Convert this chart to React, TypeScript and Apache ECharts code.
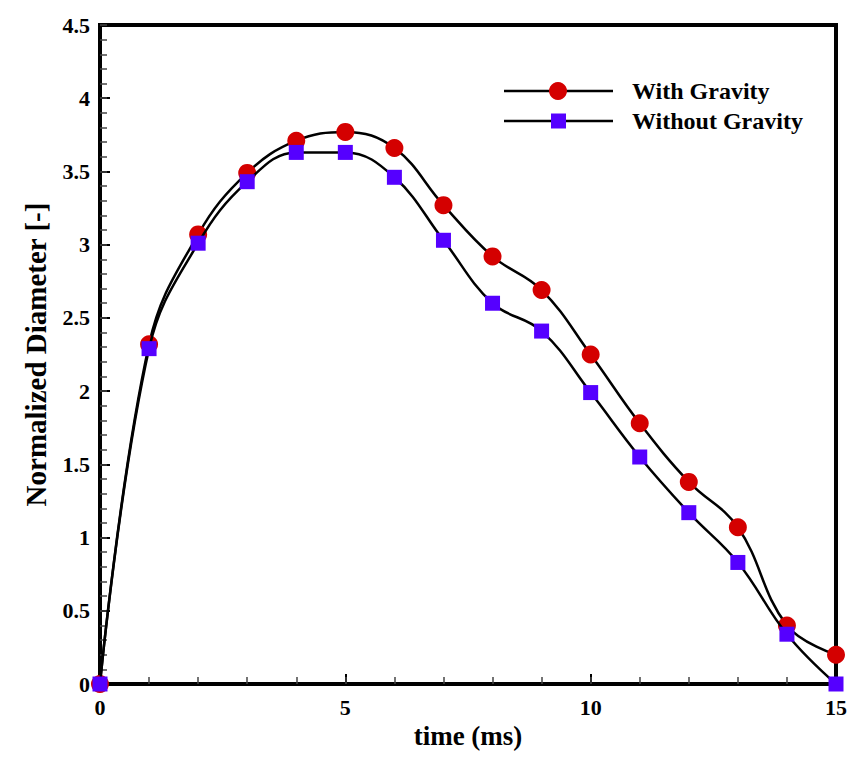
import React, { useEffect, useRef } from "react";
import * as echarts from "echarts";

const timeMs = [0, 1, 2, 3, 4, 5, 6, 7, 8, 9, 10, 11, 12, 13, 14, 15];
const withGravity = [0, 2.32, 3.07, 3.49, 3.71, 3.77, 3.66, 3.27, 2.92, 2.69, 2.25, 1.78, 1.38, 1.07, 0.4, 0.2];
const withoutGravity = [0, 2.29, 3.01, 3.43, 3.63, 3.63, 3.46, 3.03, 2.6, 2.41, 1.99, 1.55, 1.17, 0.83, 0.34, 0];
const seriesNames = ["With Gravity", "Without Gravity"];
const seriesColors = ["#d40000", "#5500ff"];

const FONT = '"Liberation Serif", "Times New Roman", serif';

export default function App() {
  const ref = useRef<HTMLDivElement>(null);
  useEffect(() => {
    if (!ref.current) return;
    const chart = echarts.init(ref.current, undefined, { renderer: "svg" });
    const toPairs = (ys: number[]) => timeMs.map((t, i) => [t, ys[i]]);
    const legendItems: any[] = [];
    seriesNames.forEach((name, i) => {
      const y = 91 + i * 30;
      legendItems.push({
        type: "line",
        shape: { x1: 504, y1: y, x2: 613, y2: y },
        style: { stroke: "#000", lineWidth: 2.5 },
        z: 100,
      });
      if (i === 0) {
        legendItems.push({
          type: "circle",
          shape: { cx: 558, cy: y, r: 9 },
          style: { fill: seriesColors[i] },
          z: 101,
        });
      } else {
        legendItems.push({
          type: "rect",
          shape: { x: 551, y: y - 7.5, width: 15, height: 15 },
          style: { fill: seriesColors[i] },
          z: 101,
        });
      }
      legendItems.push({
        type: "text",
        x: 632,
        y: y,
        style: {
          text: name,
          font: `bold 24px ${FONT}`,
          fill: "#000",
          verticalAlign: "middle",
          align: "left",
        },
        z: 101,
      });
    });
    const labelStyle = { fontFamily: FONT, fontWeight: "bold", fontSize: 22, color: "#000" };
    chart.setOption({
      animation: false,
      backgroundColor: "#fff",
      grid: {
        left: 100,
        right: 13,
        top: 25,
        bottom: 76,
        show: true,
        borderColor: "#000",
        borderWidth: 4,
        containLabel: false,
      },
      xAxis: [
        {
          type: "value",
          min: 0,
          max: 15,
          interval: 5,
          name: "time (ms)",
          nameLocation: "middle",
          nameGap: 31,
          nameTextStyle: { fontFamily: FONT, fontWeight: "bold", fontSize: 27, color: "#000" },
          axisLine: { show: true, lineStyle: { color: "#000", width: 4 } },
          axisTick: { show: true, inside: true, length: 10, lineStyle: { color: "#000", width: 2 } },
          splitLine: { show: false },
          axisLabel: { ...labelStyle, margin: 12 },
        },
        {
          type: "value",
          position: "bottom",
          min: 0,
          max: 15,
          interval: 1,
          axisLine: { show: false },
          axisTick: { show: true, inside: true, length: 7, lineStyle: { color: "#444", width: 1.5 } },
          axisLabel: { show: false },
          splitLine: { show: false },
        },
      ],
      yAxis: [
        {
          type: "value",
          min: 0,
          max: 4.5,
          interval: 0.5,
          name: "Normalized Diameter [-]",
          nameLocation: "middle",
          nameGap: 50,
          nameTextStyle: { fontFamily: FONT, fontWeight: "bold", fontSize: 29, color: "#000" },
          axisLine: { show: true, lineStyle: { color: "#000", width: 4 } },
          axisTick: { show: true, inside: true, length: 10, lineStyle: { color: "#000", width: 2 } },
          splitLine: { show: false },
          axisLabel: { ...labelStyle, margin: 10 },
        },
        {
          type: "value",
          position: "left",
          min: 0,
          max: 4.5,
          interval: 0.1,
          axisLine: { show: false },
          axisTick: { show: true, inside: true, length: 7, lineStyle: { color: "#444", width: 1.5 } },
          axisLabel: { show: false },
          splitLine: { show: false },
        },
      ],
      series: [
        {
          name: seriesNames[0],
          type: "line",
          xAxisIndex: 0,
          yAxisIndex: 0,
          data: toPairs(withGravity),
          smooth: 0.4,
          symbol: "circle",
          symbolSize: 18,
          clip: false,
          lineStyle: { color: "#000", width: 2.5 },
          itemStyle: { color: seriesColors[0], borderWidth: 0 },
          z: 3,
        },
        {
          name: seriesNames[1],
          type: "line",
          xAxisIndex: 0,
          yAxisIndex: 0,
          data: toPairs(withoutGravity),
          smooth: 0.4,
          symbol: "rect",
          symbolSize: 15,
          clip: false,
          lineStyle: { color: "#000", width: 2.5 },
          itemStyle: { color: seriesColors[1], borderWidth: 0 },
          z: 4,
        },
      ],
      graphic: legendItems,
    });
    return () => chart.dispose();
  }, []);
  return (
    <div style={{ position: "fixed", left: 0, top: 0, width: 850, height: 760, overflow: "hidden", background: "#fff" }}>
      <div
        style={{
          position: "absolute",
          left: 8,
          top: 5,
          width: 1000,
          height: 1000,
          border: "1px solid #ffff00",
          boxSizing: "border-box",
        }}
      />
      <div ref={ref} style={{ position: "absolute", left: 0, top: 0, width: 850, height: 760 }} />
    </div>
  );
}
